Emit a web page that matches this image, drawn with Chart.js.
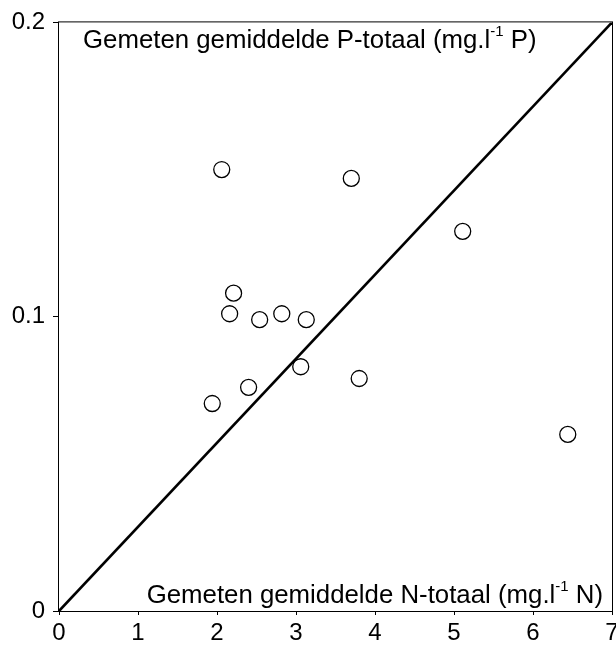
<!DOCTYPE html>
<html>
<head>
<meta charset="utf-8">
<script src="https://cdn.jsdelivr.net/npm/chart.js@4.4.0/dist/chart.umd.min.js"></script>
<style>
  html, body { margin: 0; padding: 0; background: #fff; overflow: hidden; }
  canvas { display: block; }
</style>
</head>
<body>
<!-- canvas is a bit wider than the window so the "7" gets cut off at the edge like the original -->
<canvas id="myChart" width="630" height="646"></canvas>
<script>
const nTotaal = [2.06, 3.70, 5.11, 2.21, 2.16, 2.54, 2.82, 3.13, 3.06, 3.80, 2.40, 1.94, 6.44];
const pTotaal = [0.150, 0.147, 0.129, 0.108, 0.101, 0.099, 0.101, 0.099, 0.083, 0.079, 0.076, 0.0705, 0.060];

// 1:1 reference line endpoints
const lineX = [0, 7];
const lineY = [0, 0.2];

const xTicks = [0, 1, 2, 3, 4, 5, 6, 7];
const yTicks = [0, 0.1, 0.2];
const yTickLabels = ["0", "0.1", "0.2"];

const FONT = "'Liberation Sans', Arial, sans-serif";

/*
   draws the frame round the plot and the two axis captions inside it,
   the captions have a superscript -1 so they are drawn piece by piece
*/
function drawCaption(ctx, parts, x, y, align) {
    let widths = parts.map(p => {
        ctx.font = p.size + "px " + FONT;
        return ctx.measureText(p.t).width;
    });
    let total = widths.reduce((a, b) => a + b, 0);
    let cx = align == "right" ? x - total : x;
    parts.forEach((p, i) => {
        ctx.font = p.size + "px " + FONT;
        ctx.fillText(p.t, cx, y - (p.rise || 0));
        cx += widths[i];
    });
}

const framePlugin = {
    id: "frame",
    afterDraw(chart) {
        const { ctx, chartArea: a } = chart;
        ctx.save();
        ctx.strokeStyle = "#000";
        ctx.lineWidth = 1;
        ctx.strokeRect(a.left - 0.5, a.top - 0.5, a.right - a.left + 1, a.bottom - a.top + 1);
        ctx.fillStyle = "#000";
        ctx.textBaseline = "alphabetic";
        drawCaption(ctx, [
            { t: "Gemeten gemiddelde P-totaal (mg.l", size: 25.8 },
            { t: "-1", size: 15, rise: 12 },
            { t: " P)", size: 25.8 }
        ], a.left + 24, a.top + 26, "left");
        drawCaption(ctx, [
            { t: "Gemeten gemiddelde N-totaal (mg.l", size: 25.8 },
            { t: "-1", size: 15, rise: 12 },
            { t: " N)", size: 25.8 }
        ], a.right - 9, a.bottom - 8, "right");
        ctx.restore();
    }
};

const points = nTotaal.map((x, i) => ({ x: x, y: pTotaal[i] }));
const line = lineX.map((x, i) => ({ x: x, y: lineY[i] }));

new Chart(document.getElementById("myChart"), {
    type: "scatter",
    data: {
        datasets: [
            {
                type: "line",
                data: line,
                borderColor: "#000",
                borderWidth: 2.6,
                pointRadius: 0,
                fill: false,
                order: 0
            },
            {
                data: points,
                pointRadius: 8,
                pointHoverRadius: 8,
                pointBorderWidth: 1.3,
                borderColor: "#000",
                pointBackgroundColor: "rgba(255,255,255,0)",
                backgroundColor: "rgba(255,255,255,0)",
                order: 1
            }
        ]
    },
    options: {
        responsive: false,
        animation: false,
        layout: { padding: { top: 19, right: 18, left: 0, bottom: 0 } },
        plugins: {
            legend: { display: false },
            tooltip: { enabled: false }
        },
        scales: {
            x: {
                type: "linear",
                min: 0,
                max: 7,
                afterBuildTicks: s => { s.ticks = xTicks.map(v => ({ value: v })); },
                afterFit: s => { s.height = 35; },
                border: { display: false },
                grid: { display: true, drawOnChartArea: false, drawTicks: true, tickLength: 4, color: "#000", lineWidth: 1 },
                ticks: {
                    color: "#000",
                    padding: 4,
                    maxRotation: 0,
                    autoSkip: false,
                    font: { family: FONT, size: 24 },
                    callback: v => String(v)
                }
            },
            y: {
                type: "linear",
                min: 0,
                max: 0.2,
                afterBuildTicks: s => { s.ticks = yTicks.map(v => ({ value: v })); },
                afterFit: s => { s.width = 59; },
                border: { display: false },
                grid: { display: true, drawOnChartArea: false, drawTicks: true, tickLength: 6, color: "#000", lineWidth: 1 },
                ticks: {
                    color: "#000",
                    padding: 8,
                    autoSkip: false,
                    font: { family: FONT, size: 24 },
                    callback: v => yTickLabels[yTicks.indexOf(v)]
                }
            }
        }
    },
    plugins: [framePlugin]
});
</script>
</body>
</html>
